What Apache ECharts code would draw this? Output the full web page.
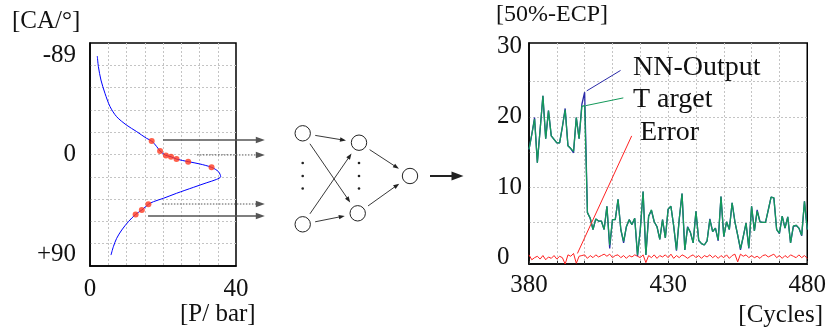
<!DOCTYPE html>
<html><head><meta charset="utf-8">
<script src="https://cdn.jsdelivr.net/npm/echarts@6/dist/echarts.min.js"></script>
<style>html,body{margin:0;padding:0;background:#fff}#c{width:829px;height:328px}</style>
</head><body><div id="c"></div>
<script>
const FONT = 'Liberation Serif';
// ---- left panel: pressure trace (P in bar, crank angle in degrees) ----
const curveP  = [2.0, 2.3, 3.0, 4.1, 5.5, 7.3, 10.0, 12.8, 15.5, 16.9, 18.3, 19.2, 20.8, 22.2, 23.7, 26.9, 30.1, 33.3, 35.2, 35.8, 34.7, 32.0, 28.3, 23.7, 20.1, 17.4, 16.0, 14.2, 12.5, 10.5, 8.7, 7.3, 6.4, 5.75];
const curveCA = [-88.3, -78.8, -66.8, -54.9, -42.9, -33.9, -26.4, -20.5, -14.5, -12.1, -7.0, -3.1, 0.8, 2.0, 4.1, 6.4, 8.5, 11.5, 15.4, 19.9, 22.3, 25.3, 29.5, 34.8, 39.3, 42.3, 44.7, 49.8, 53.7, 60.3, 67.7, 75.2, 82.7, 90.2];
const sampleP  = [16.9, 19.2, 20.8, 22.2, 23.7, 26.9, 33.3, 16.0, 14.2, 12.5];
const sampleCA = [-12.1, -3.1, 0.8, 2.0, 4.1, 6.4, 11.5, 44.7, 49.8, 53.7];
const arrowCA     = [-13, 0.4, 44.4, 55.2];
const arrowStartP = [20.0, 29.3, 19.7, 15.9];
const arrowDotted = [false, true, true, false];
const arrowEndP = 47.9;
const leftXLabels = [0, 40];
const leftYLabels = [-89, 0, 90];
// ---- right panel: 50%-ECP per cycle ----
const cycleStart = 380;
const target = [15.4,17.5,19.7,13.5,18.2,23.0,16.9,20.9,17.3,16.8,
  16.3,16.3,18.6,21.0,15.9,15.5,15.1,19.9,16.9,21.5,
  21.6,6.4,5.6,4.0,5.5,5.2,5.2,4.0,7.3,1.8,
  5.4,5.4,8.3,4.0,2.3,4.4,5.4,4.7,5.6,0.4,
  4.0,9.4,0.4,5.9,6.8,5.1,4.4,2.6,5.4,2.8,
  6.9,7.3,4.5,1.1,5.5,9.1,1.1,4.3,3.6,2.1,
  6.6,2.5,2.0,1.8,2.4,5.4,3.7,4.2,2.5,8.7,
  3.0,5.1,4.0,7.8,5.1,3.2,1.3,3.0,4.9,1.4,
  7.3,3.8,6.6,5.1,5.0,5.0,6.8,8.6,8.5,4.0,
  3.5,5.9,4.2,5.8,2.1,4.5,4.6,4.2,3.2,8.0,
  4.0];
const nnOutput = [15.4,17.5,19.9,13.5,18.2,23.0,16.9,20.9,17.3,16.8,
  16.3,16.3,18.6,21.2,15.9,15.5,14.9,19.9,16.9,21.8,
  23.5,6.4,5.6,4.0,5.5,5.2,5.2,4.0,7.3,1.3,
  5.4,5.4,8.3,4.0,2.1,4.4,5.4,4.7,5.6,0.2,
  4.0,9.4,0.4,5.9,6.7,5.1,4.4,2.6,5.4,2.8,
  6.9,7.3,4.5,1.0,5.5,9.1,1.1,4.4,3.6,2.1,
  6.6,2.4,2.0,1.8,2.4,5.5,3.7,4.2,2.4,8.7,
  3.0,5.1,4.0,7.8,5.1,3.2,1.1,3.0,4.9,1.3,
  7.3,3.8,6.8,5.1,5.0,5.0,6.8,8.6,8.5,4.0,
  3.4,5.9,4.2,5.8,2.1,4.4,4.6,4.2,3.1,8.0,
  4.0];
const errorVals = [0.4,-0.3,0.0,0.2,-0.2,0.3,-0.3,0.1,-0.1,0.3,
  -0.2,0.2,0.0,-0.9,0.4,0.2,0.6,-0.8,0.2,0.3,
  0.4,-0.1,0.3,0.0,0.4,0.1,0.3,0.5,0.2,0.5,
  0.0,0.3,0.4,0.0,0.3,-0.1,0.3,0.1,0.4,0.2,
  0.0,0.4,-0.7,0.3,0.0,0.4,-0.1,0.3,0.1,0.4,
  0.0,0.5,-0.1,0.3,0.0,0.4,0.2,-0.1,0.2,0.4,
  0.0,0.3,-0.1,0.3,0.1,0.4,0.0,0.3,-0.1,0.3,
  0.0,0.4,-0.1,0.3,0.5,-0.6,0.5,0.2,0.4,0.0,
  0.3,0.0,0.2,-0.1,0.3,0.4,0.1,0.3,0.5,0.0,
  0.3,-0.1,0.3,0.0,0.4,0.2,0.0,0.4,0.0,0.3,
  -0.1];
const rightXLabels = [380, 430, 480];
const rightYLabels = [0, 10, 20, 30];
const rightYTicks = [0, 5, 10, 15, 20, 25, 30];
// leader lines [fromCycle, fromVal, toCycle, toVal]
const leaderNN = [400.75, 23.7, 412.9, 26.6];
const leaderTarget = [400.4, 21.6, 413.9, 22.7];
const leaderError = [397.4, 0.6, 416.9, 17.3];

const BLUE_NN = '#2b2ba8', GREEN = '#14995a', RED = '#ff2222';
const pairs = (a, b) => a.map((v, i) => [v, b[i]]);
const cyc = arr => arr.map((v, i) => [cycleStart + i, v]);
const txt = {fontFamily: FONT, fontSize: 25, color: '#111'};
const leader = (c, col) => ({
  silent: true, symbol: 'none', animation: false, label: {show: false},
  lineStyle: {color: col, width: 1, type: 'solid'},
  data: [[{coord: [c[0], c[1]]}, {coord: [c[2], c[3]]}]]
});
const split = {show: true, showMinLine: false, showMaxLine: false, lineStyle: {color: '#c4c4c4', width: 1, type: [2, 2]}};
const frame = {show: true, onZero: false, lineStyle: {color: '#000', width: 1.5}};

const chart = echarts.init(document.getElementById('c'), null, {renderer: 'canvas'});
chart.setOption({
  animation: false,
  backgroundColor: '#fff',
  textStyle: {fontFamily: FONT},
  grid: [
    {left: 90, top: 43, width: 146, height: 223, show: true, borderColor: '#000', borderWidth: 1.5, backgroundColor: 'transparent'},
    {left: 529, top: 43, width: 279, height: 221, show: true, borderColor: '#000', borderWidth: 1.5, backgroundColor: 'transparent'}
  ],
  xAxis: [
    {gridIndex: 0, type: 'value', min: 0, max: 40, interval: 5,
     axisLine: frame, axisTick: {show: false}, splitLine: split,
     axisLabel: Object.assign({customValues: leftXLabels, margin: 11}, txt)},
    {gridIndex: 1, type: 'value', min: 380, max: 480, interval: 10,
     axisLine: frame, axisTick: {show: true, inside: true, length: 3, lineStyle: {color: '#333'}}, splitLine: split,
     axisLabel: Object.assign({customValues: rightXLabels, margin: 9}, txt)}
  ],
  yAxis: [
    {gridIndex: 0, type: 'value', min: -100, max: 100, interval: 20, inverse: true,
     axisLine: frame, axisTick: {show: false}, splitLine: split,
     axisLabel: Object.assign({customValues: leftYLabels, margin: 14,
       formatter: v => (v > 0 ? '+' + v : String(v))}, txt)},
    {gridIndex: 1, type: 'value', min: -0.9, max: 30.5,
     axisLine: frame, axisTick: {show: false, customValues: rightYTicks}, splitLine: split,
     axisLabel: Object.assign({customValues: rightYLabels, margin: 32, align: 'left'}, txt)}
  ],
  series: [
    {type: 'line', xAxisIndex: 0, yAxisIndex: 0, data: pairs(curveP, curveCA), showSymbol: false,
     smooth: 0.3, lineStyle: {color: '#0000ff', width: 1}, z: 2},
    {type: 'scatter', xAxisIndex: 0, yAxisIndex: 0, data: pairs(sampleP, sampleCA), symbol: 'circle', symbolSize: 6,
     itemStyle: {color: '#ff3a1f'}, z: 3},
    {type: 'line', xAxisIndex: 1, yAxisIndex: 1, data: cyc(nnOutput), showSymbol: false,
     lineStyle: {color: BLUE_NN, width: 1.3}, markLine: leader(leaderNN, BLUE_NN), z: 2},
    {type: 'line', xAxisIndex: 1, yAxisIndex: 1, data: cyc(target), showSymbol: false,
     lineStyle: {color: GREEN, width: 1.3}, markLine: leader(leaderTarget, GREEN), z: 3},
    {type: 'line', xAxisIndex: 1, yAxisIndex: 1, data: cyc(errorVals), showSymbol: false,
     lineStyle: {color: RED, width: 1}, markLine: leader(leaderError, RED), z: 4}
  ]
});

function arrowEls(x1, y1, x2, y2, o) {
  const dx = x2 - x1, dy = y2 - y1, L = Math.hypot(dx, dy), ux = dx / L, uy = dy / L;
  const bx = x2 - ux * o.hl, by = y2 - uy * o.hl;
  return [
    {type: 'line', silent: true, shape: {x1: x1, y1: y1, x2: bx + ux, y2: by + uy},
     style: {stroke: o.color, lineWidth: o.lw, lineDash: o.dash || null}},
    {type: 'polygon', silent: true, shape: {points: [[x2, y2], [bx - uy * o.hw, by + ux * o.hw], [bx + uy * o.hw, by - ux * o.hw]]},
     style: {fill: o.color}}
  ];
}
const els = [];
// arrows from sampled points to the network
arrowCA.forEach((ca, i) => {
  const s = chart.convertToPixel({gridIndex: 0}, [arrowStartP[i], ca]);
  const e = chart.convertToPixel({gridIndex: 0}, [arrowEndP, ca]);
  els.push(...arrowEls(s[0], s[1], e[0], e[1], {color: '#555', lw: arrowDotted[i] ? 1 : 1.6, hl: 9, hw: 3.2, dash: arrowDotted[i] ? [1.5, 1.5] : null}));
});
// neural network sketch
const nodes = {i1: [302.7, 133.3], i2: [302.7, 224.3], h1: [359, 142.7], h2: [357.7, 213.3], o: [410, 176]};
const R = 7.7;
[['i1','h1'],['i1','h2'],['i2','h1'],['i2','h2'],['h1','o'],['h2','o']].forEach(([a, b]) => {
  const A = nodes[a], B = nodes[b];
  const dx = B[0] - A[0], dy = B[1] - A[1], L = Math.hypot(dx, dy), ux = dx / L, uy = dy / L;
  els.push(...arrowEls(A[0] + ux * (R + 5), A[1] + uy * (R + 5), B[0] - ux * (R + 5.5), B[1] - uy * (R + 5.5),
    {color: '#222', lw: 0.9, hl: 6, hw: 2.2}));
});
Object.values(nodes).forEach(c => els.push({type: 'circle', silent: true, shape: {cx: c[0], cy: c[1], r: R},
  style: {fill: '#fff', stroke: '#222', lineWidth: 1}}));
[[302.7, 163], [302.7, 176], [302.7, 188.5], [359, 163], [359, 176], [359, 188.5]].forEach(c =>
  els.push({type: 'circle', silent: true, shape: {cx: c[0], cy: c[1], r: 1.3}, style: {fill: '#222'}}));
els.push(...arrowEls(430, 176, 463.5, 176, {color: '#222', lw: 2, hl: 12, hw: 4.5}));
// texts
const T = (text, x, y, align, size) => ({type: 'text', silent: true, x: x, y: y,
  style: {text: text, fontFamily: FONT, fontSize: size || 25, fill: '#111', align: align || 'left', verticalAlign: 'middle'}});
els.push(T('[CA/°]', 12, 21));
els.push(T('[P/ bar]', 180, 314));
els.push(T('[50%-ECP]', 496, 15, 'left', 24));
els.push(T('[Cycles]', 823, 315, 'right'));
els.push(T('NN-Output', 633, 68, 'left', 28));
els.push(T('T arget', 633, 100, 'left', 28));
els.push(T('Error', 640, 133, 'left', 28));
chart.setOption({graphic: {elements: els}});
</script></body></html>
